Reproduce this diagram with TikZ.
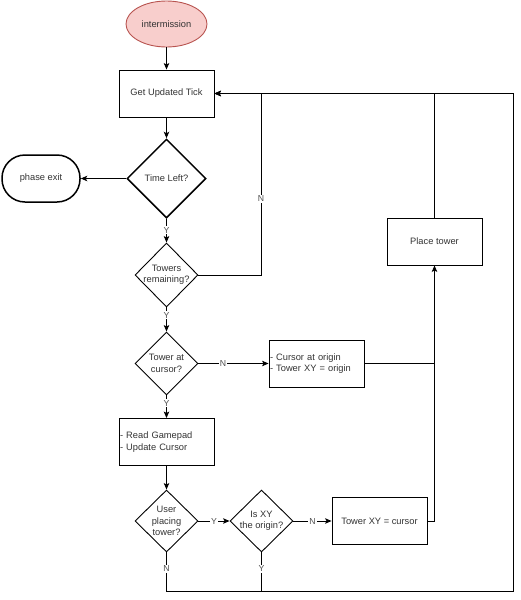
\documentclass[tikz,border=0pt]{standalone}
\usepackage{fontspec}
\setmainfont{Liberation Sans}
\usetikzlibrary{shapes.geometric, arrows.meta}
\definecolor{termfill}{HTML}{F8CECC}
\definecolor{termdraw}{HTML}{B85450}
\definecolor{txt}{HTML}{333333}

\begin{document}
\begin{tikzpicture}[x=1pt, y=-1pt, line width=0.9pt, >={Stealth[length=6.5pt, width=5.5pt, inset=1.5pt]}, every node/.style={font=\fontsize{9.3}{11.5}\selectfont, text=txt}, box/.style={draw, minimum width=95pt, minimum height=47pt, inner sep=1pt, align=center}, listbox/.style={box, text width=93pt, align=left}, decision/.style={draw, diamond, inner sep=-4pt, align=center}, lbl/.style={fill=white, inner sep=1pt, font=\fontsize{8.7}{10}\selectfont, text=txt!85}]
\useasboundingbox (0,0) rectangle (521,600);
\node[ellipse, draw=termdraw, fill=termfill, minimum width=81pt, minimum height=46pt] (intermission) at (166.5,24) {intermission};
\node[box] (tick) at (166.5,93.5) {Get Updated Tick};
\node[decision, line width=1.5pt, minimum width=79pt, minimum height=79pt] (timeleft) at (166.5,178.5) {Time Left?};
\node[box, line width=1.5pt, rounded corners=23pt, minimum width=78pt] (phaseexit) at (41,178.5) {phase exit};
\node[decision, minimum width=63pt, minimum height=64pt] (towersleft) at (166.5,275) {Towers\\remaining?};
\node[decision, minimum width=63pt, minimum height=63pt] (towerhere) at (166.5,363.5) {Tower at\\cursor?};
\node[listbox] (resetcursor) at (316.5,363.5) {- Cursor at origin\\- Tower XY = origin};
\node[listbox] (gamepad) at (166.5,442) {- Read Gamepad\\- Update Cursor};
\node[decision, minimum width=63pt, minimum height=62pt] (placing) at (166.5,521) {User\\placing\\tower?};
\node[decision, minimum width=63pt, minimum height=62pt] (atorigin) at (261.5,521) {Is XY\\the origin?};
\node[box] (settower) at (379.5,521) {Tower XY = cursor};
\node[box] (placetower) at (434.5,241.5) {Place tower};
\coordinate (loopbl) at (166.5,591);
\coordinate (looptr) at (513,93.5);
\coordinate (nturn) at (261,93.5);
\draw[->] (intermission) -- (tick);
\draw[->] (tick) -- (timeleft);
\draw[->] (timeleft) -- (phaseexit);
\draw[->] (timeleft) -- node[lbl, pos=0.48]{Y} (towersleft);
\draw[->] (towersleft.east) -| (nturn) node[lbl, pos=0.71]{N} -- (tick.east);
\draw[->] (towersleft) -- node[lbl, pos=0.32]{Y} (towerhere);
\draw[->] (towerhere) -- node[lbl, pos=0.35]{N} (resetcursor);
\draw[->] (towerhere) -- node[lbl, pos=0.35]{Y} (gamepad);
\draw[->] (gamepad) -- (placing);
\draw[->] (placing) -- node[lbl]{Y} (atorigin);
\draw[->] (atorigin) -- node[lbl]{N} (settower);
\draw[->] (settower.east) -| (placetower.south);
\draw (resetcursor.east) -- (resetcursor.east -| placetower.south);
\draw[->] (placetower.north) |- (tick.east);
\draw[->] (placing.south) -- node[lbl, pos=0.42]{N} (loopbl) -| (looptr) -- (tick.east);
\draw (atorigin.south) -- node[lbl, pos=0.42]{Y} (atorigin.south |- loopbl);
\end{tikzpicture}
\end{document}
